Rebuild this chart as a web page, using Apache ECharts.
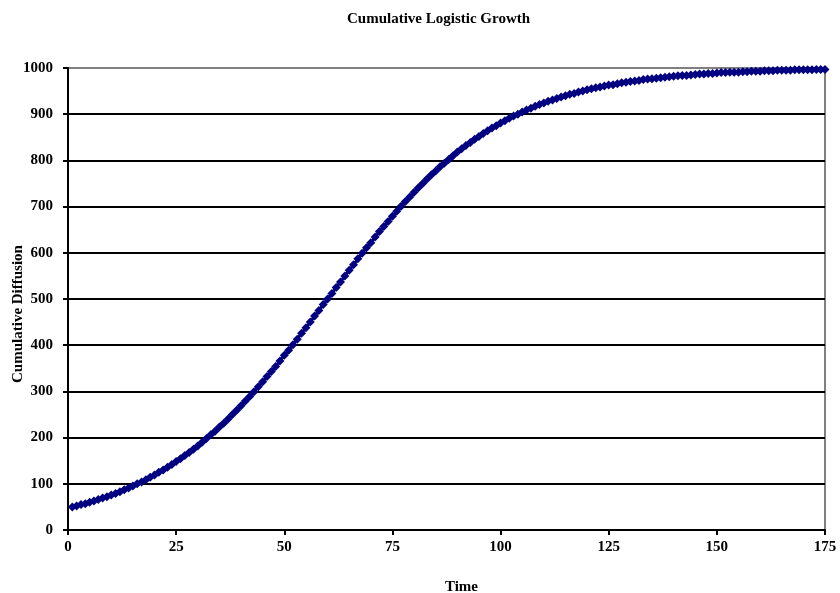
<!DOCTYPE html>
<html>
<head>
<meta charset="utf-8">
<script src="https://cdn.jsdelivr.net/npm/echarts@6/dist/echarts.min.js"></script>
<style>
  html, body { margin: 0; padding: 0; background: #fff; }
  #chart { width: 840px; height: 593px; }
</style>
</head>
<body>
<div id="chart"></div>
<script>
// cumulative diffusion, one value per time step (t = 1..175)
var diffusion = [
  50, 52, 55, 57, 60, 63, 66, 69, 72, 76,
  79, 83, 87, 91, 95, 100, 104, 109, 114, 119,
  125, 130, 136, 142, 148, 154, 161, 168, 175, 182,
  190, 198, 206, 214, 223, 231, 240, 250, 259, 269,
  279, 289, 299, 310, 321, 332, 343, 354, 366, 378,
  389, 401, 413, 426, 438, 450, 463, 475, 488, 500,
  512, 525, 537, 550, 562, 574, 587, 599, 611, 622,
  634, 646, 657, 668, 679, 690, 701, 711, 721, 731,
  741, 750, 760, 769, 777, 786, 794, 802, 810, 818,
  825, 832, 839, 846, 852, 858, 864, 870, 875, 881,
  886, 891, 896, 900, 905, 909, 913, 917, 921, 924,
  928, 931, 934, 937, 940, 943, 945, 948, 950, 953,
  955, 957, 959, 961, 963, 964, 966, 968, 969, 971,
  972, 973, 975, 976, 977, 978, 979, 980, 981, 982,
  983, 984, 984, 985, 986, 987, 987, 988, 988, 989,
  990, 990, 991, 991, 991, 992, 992, 993, 993, 993,
  994, 994, 994, 995, 995, 995, 995, 996, 996, 996,
  996, 996, 997, 997, 997
];
var xTicks = [0, 25, 50, 75, 100, 125, 150, 175];
var yTicks = [0, 100, 200, 300, 400, 500, 600, 700, 800, 900, 1000];

var points = diffusion.map(function (v, i) { return [i + 1, v]; });

var myCharts = echarts.init(document.getElementById('chart'));

var font = '"Liberation Serif", "Times New Roman", serif';
var textBold = { fontFamily: font, fontSize: 15, fontWeight: 'bold', color: '#000' };

// 横向网格线：最上面一条是灰色边框
var gridColors = yTicks.map(function (v, i) {
  return i === yTicks.length - 1 ? '#808080' : '#000000';
});

var option = {
  animation: false,
  title: {
    text: 'Cumulative Logistic Growth',
    left: 342,
    top: 7,
    textStyle: textBold
  },
  grid: {
    left: 68, right: 15, top: 68, bottom: 63,
    outerBoundsMode: 'none',
    show: true,
    borderColor: '#808080',
    borderWidth: 2,
    backgroundColor: '#fff'
  },
  xAxis: {
    type: 'value',
    min: xTicks[0],
    max: xTicks[xTicks.length - 1],
    interval: 25,
    name: 'Time',
    nameLocation: 'middle',
    nameGap: 50,
    nameMoveOverlap: false,
    nameTextStyle: Object.assign({}, textBold, { padding: [0, 0, 0, 30] }),
    axisLine: { show: true, onZero: false, lineStyle: { color: '#000', width: 2 } },
    axisTick: { show: true, inside: false, length: 5, lineStyle: { color: '#000', width: 2 } },
    axisLabel: Object.assign({}, textBold, { margin: 10 }),
    splitLine: { show: false }
  },
  yAxis: {
    type: 'value',
    min: yTicks[0],
    max: yTicks[yTicks.length - 1],
    interval: 100,
    name: 'Cumulative Diffusion',
    nameLocation: 'middle',
    nameGap: 42,
    nameMoveOverlap: false,
    nameTextStyle: Object.assign({}, textBold, { padding: [0, 30, 0, 0] }),
    axisLine: { show: true, onZero: false, lineStyle: { color: '#000', width: 2 } },
    axisTick: { show: true, inside: false, length: 5, lineStyle: { color: '#000', width: 2 } },
    axisLabel: Object.assign({}, textBold, {
      margin: 15,
      formatter: function (v) { return String(v); }
    }),
    splitLine: { show: true, lineStyle: { color: gridColors, width: 2 } }
  },
  series: [
    {
      type: 'line',
      data: points,
      symbol: 'diamond',
      symbolSize: 9,
      showSymbol: true,
      itemStyle: { color: '#000080' },
      lineStyle: { color: '#000080', width: 3 }
    }
  ]
};

myCharts.setOption(option);
</script>
</body>
</html>
